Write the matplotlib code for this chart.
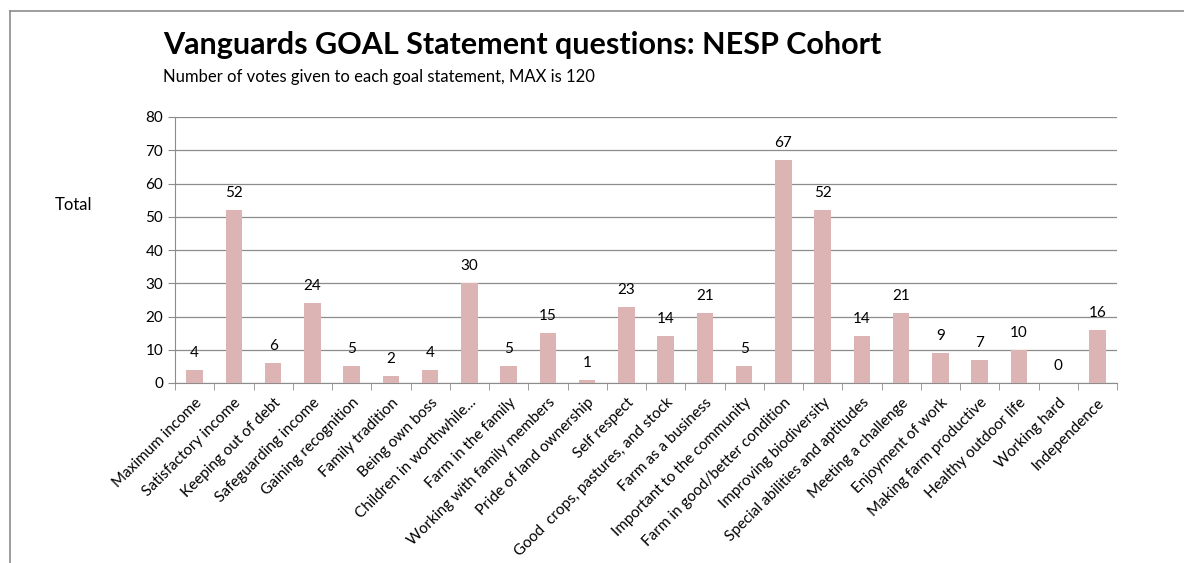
import numpy as np
import matplotlib
matplotlib.use("Agg")
from matplotlib import pyplot as plt
from matplotlib.lines import Line2D

plt.rcParams['font.family'] = ['Lato', 'DejaVu Sans']

categories = [
    "Maximum income", "Satisfactory income", "Keeping out of debt", "Safeguarding income",
    "Gaining recognition", "Family tradition", "Being own boss", "Children in worthwhile...",
    "Farm in the family", "Working with family members", "Pride of land ownership",
    "Self respect", "Good  crops, pastures, and stock", "Farm as a business",
    "Important to the community", "Farm in good/better condition", "Improving biodiversity",
    "Special abilities and aptitudes", "Meeting a challenge", "Enjoyment of work",
    "Making farm productive", "Healthy outdoor life", "Working hard", "Independence",
]
votes = [4, 52, 6, 24, 5, 2, 4, 30, 5, 15, 1, 23, 14, 21, 5, 67, 52, 14, 21, 9, 7, 10, 0, 16]

fig = plt.figure(figsize=(11.84, 5.63), dpi=100)
ax = fig.add_axes([175 / 1184, 1 - 383 / 563, (1117 - 175) / 1184, (383 - 117) / 563])

x = np.arange(len(categories))
ax.bar(x, votes, width=0.42, color="#DDB4B4", zorder=3)
for xi, v in zip(x, votes):
    ax.text(xi, v + 3, str(v), ha="center", va="bottom", fontsize=11)

ax.set_xlim(-0.5, len(categories) - 0.5)
ax.set_ylim(0, 80)
ax.set_yticks(range(0, 81, 10))
ax.yaxis.grid(True, color="#8C8C8C", linewidth=0.9, zorder=0)
ax.set_xticks(x)
ax.set_xticklabels(categories, rotation=45, ha="right", rotation_mode="anchor", fontsize=11)
ax.set_xticks(np.arange(-0.5, len(categories)), minor=True)
ax.tick_params(axis="x", which="major", length=0, pad=9)
ax.tick_params(axis="x", which="minor", length=5, color="#8C8C8C")
ax.tick_params(axis="y", length=5, color="#8C8C8C", labelsize=11)
for s in ["top", "right"]:
    ax.spines[s].set_visible(False)
for s in ["left", "bottom"]:
    ax.spines[s].set_color("#8C8C8C")

fig.text(55 / 1184, 1 - 205 / 563, "Total", fontsize=12, va="center", ha="left")
fig.text(163 / 1184, 1 - 45 / 563, "Vanguards GOAL Statement questions: NESP Cohort",
         fontsize=22, fontweight="bold", va="center", ha="left")
fig.text(163 / 1184, 1 - 77 / 563, "Number of votes given to each goal statement, MAX is 120",
         fontsize=12, va="center", ha="left")

# outer chart frame (partly visible)
fig.add_artist(Line2D([10 / 1184, 1], [1 - 11 / 563, 1 - 11 / 563], color="#8C8C8C", linewidth=1.2))
fig.add_artist(Line2D([10 / 1184, 10 / 1184], [0, 1 - 11 / 563], color="#8C8C8C", linewidth=1.2))

fig.savefig("out.png", dpi=100)
